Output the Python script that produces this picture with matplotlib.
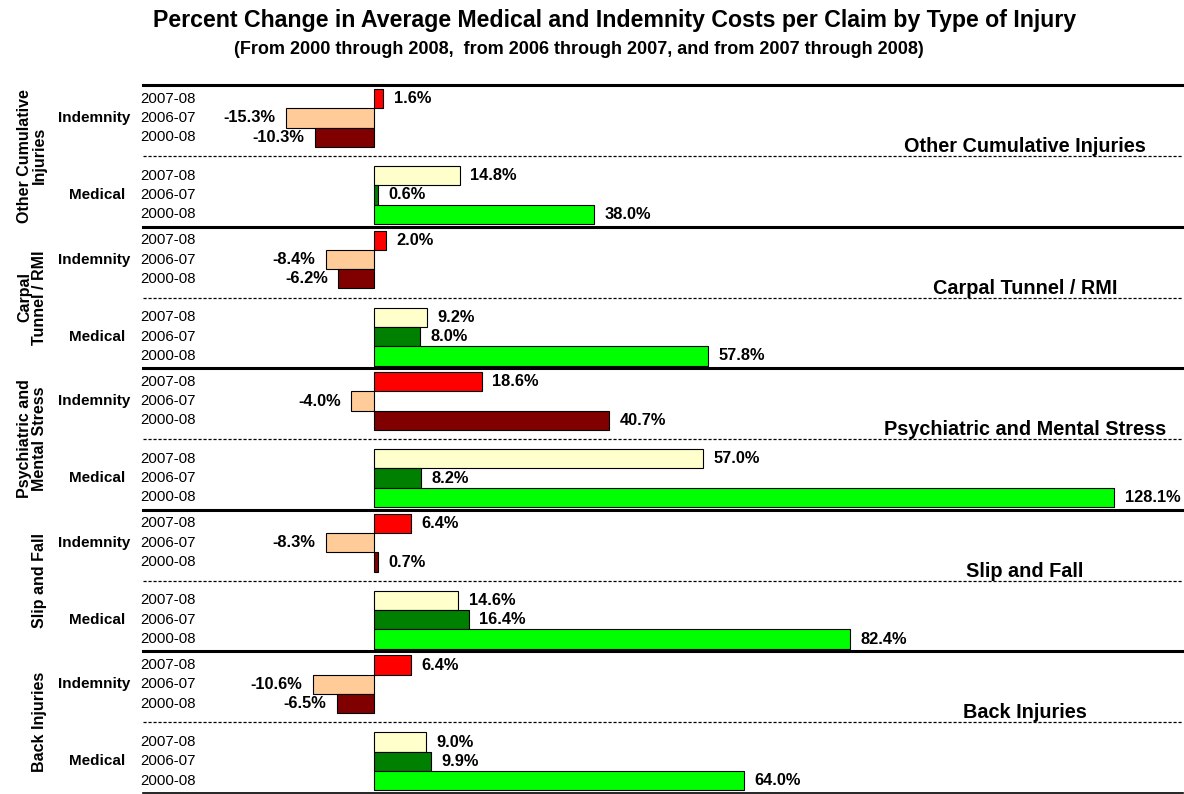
import matplotlib
matplotlib.use('Agg')
import matplotlib.pyplot as plt
from matplotlib.transforms import blended_transform_factory

plt.rcParams['font.family'] = ['Liberation Sans', 'DejaVu Sans']

# ---------------- data ----------------
injuries = ['Other Cumulative Injuries', 'Carpal Tunnel / RMI',
            'Psychiatric and Mental Stress', 'Slip and Fall', 'Back Injuries']
side_labels = ['Other Cumulative\nInjuries', 'Carpal\nTunnel / RMI',
               'Psychiatric and\nMental Stress', 'Slip and Fall', 'Back Injuries']
kinds = ['Indemnity', 'Medical']
periods = ['2007-08', '2006-07', '2000-08']

indem_0708 = [1.6, 2.0, 18.6, 6.4, 6.4]
indem_0607 = [-15.3, -8.4, -4.0, -8.3, -10.6]
indem_0008 = [-10.3, -6.2, 40.7, 0.7, -6.5]
med_0708 = [14.8, 9.2, 57.0, 14.6, 9.0]
med_0607 = [0.6, 8.0, 8.2, 16.4, 9.9]
med_0008 = [38.0, 57.8, 128.1, 82.4, 64.0]

indem_colors = ['#FF0000', '#FFCC99', '#800000']
med_colors = ['#FFFFCC', '#008000', '#00FF00']

title = 'Percent Change in Average Medical and Indemnity Costs per Claim by Type of Injury'
subtitle = '(From 2000 through 2008,  from 2006 through 2007, and from 2007 through 2008)'

# ---------------- layout ----------------
W, H = 1184, 794
BLOCK = 141.6
BAR = 19.3
KIND_OFFSET = [4.0, 81.0]
DASH_OFFSET = 71.0

fig = plt.figure(figsize=(W / 100, H / 100), dpi=100)
ax = fig.add_axes([143 / W, 1 / H, 1040 / W, 708 / H])
ax.set_xlim(-40, 140)
ax.set_ylim(5 * BLOCK, 0)
ax.axis('off')

trans_fig_x = blended_transform_factory(fig.transFigure, ax.transData)

series = {
    'Indemnity': ([indem_0708, indem_0607, indem_0008], indem_colors),
    'Medical': ([med_0708, med_0607, med_0008], med_colors),
}

for i, inj in enumerate(injuries):
    top = i * BLOCK
    for k, kind in enumerate(kinds):
        vals_list, cols = series[kind]
        for p, period in enumerate(periods):
            y = top + KIND_OFFSET[k] + BAR * (p + 0.5)
            v = vals_list[p][i]
            ax.barh(y, v, height=BAR, color=cols[p], edgecolor='black', linewidth=0.8)
            if v >= 0:
                ax.annotate(f'{v:.1f}%', (v, y), xytext=(7.5, 0), textcoords='offset points',
                            ha='left', va='center', fontsize=11.8, fontweight='bold')
            else:
                ax.annotate(f'{v:.1f}%', (v, y), xytext=(-7.5, 0), textcoords='offset points',
                            ha='right', va='center', fontsize=11.8, fontweight='bold')
            ax.text(140 / W, y, period, transform=trans_fig_x, ha='left', va='center',
                    fontsize=10.8)
        ymid = top + KIND_OFFSET[k] + BAR * 1.5
        xr = 130 if kind == 'Indemnity' else 125
        ax.text(xr / W, ymid, kind, transform=trans_fig_x, ha='right', va='center',
                fontsize=11, fontweight='bold')
    # separators
    ax.axhline(top, color='black', linewidth=2.2, clip_on=False)
    ax.axhline(top + DASH_OFFSET, color='black', linewidth=0.9, linestyle=(0, (2.5, 1.5)),
               clip_on=False)
    # injury title on the right
    ax.text(1025 / W, top + DASH_OFFSET - 4, inj, transform=trans_fig_x, ha='center',
            va='baseline', fontsize=14.3, fontweight='bold')
    # rotated side label
    ax.text(47 / W, top + BLOCK / 2, side_labels[i], transform=trans_fig_x, rotation=90,
            ha='right', va='center', multialignment='center', fontsize=11.5,
            fontweight='bold', linespacing=1.0)

ax.axhline(5 * BLOCK, color='black', linewidth=1.2, clip_on=False)

fig.text(615 / W, 1 - 20 / H, title, ha='center', va='center', fontsize=16.7,
         fontweight='bold')
fig.text(579 / W, 1 - 50 / H, subtitle, ha='center', va='center', fontsize=13,
         fontweight='bold')

fig.savefig('out.png', dpi=100)
